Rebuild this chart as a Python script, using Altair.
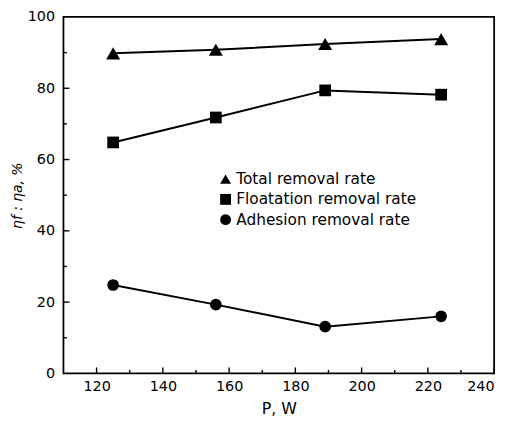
import altair as alt
import pandas as pd

power = [125, 156, 189, 224]
total = [89.8, 90.8, 92.4, 93.8]
floatation = [64.8, 71.8, 79.4, 78.2]
adhesion = [24.8, 19.3, 13.1, 16.0]
series_names = ["Total removal rate", "Floatation removal rate", "Adhesion removal rate"]
shapes = ["triangle-up", "square", "circle"]

x_major = [120, 140, 160, 180, 200, 220, 240]
x_minor = [130, 150, 170, 190, 210, 230]
y_major = [20, 40, 60, 80]
y_minor = [10, 30, 50, 70, 90]

rows = []
for name, vals in zip(series_names, [total, floatation, adhesion]):
    for p, v in zip(power, vals):
        rows.append({"P": p, "eta": v, "series": name})
df = pd.DataFrame(rows)

FONT = "DejaVu Sans"
W, H = 435, 360

xs = alt.Scale(domain=[110, 240], nice=False, zero=False)
ys = alt.Scale(domain=[0, 100], nice=False)

xaxis = alt.Axis(values=x_major, ticks=False, grid=False, labelFont=FONT, labelFontSize=14.5,
                 labelColor="black", labelPadding=6, domain=False,
                 title="P, W", titleFont=FONT, titleFontSize=16, titleFontWeight="normal",
                 titleColor="black", titlePadding=8)
yaxis = alt.Axis(values=[0, 20, 40, 60, 80, 100], ticks=False, grid=False, labelFont=FONT,
                 labelFontSize=14.5, labelColor="black", labelPadding=9, domain=False,
                 title="ηf : ηa, %", titleFont=FONT, titleFontSize=14, titleFontWeight="normal",
                 titleFontStyle="italic", titleColor="black", titlePadding=3)

lines = alt.Chart(df).mark_line(color="black", strokeWidth=2).encode(
    x=alt.X("P:Q", scale=xs, axis=xaxis),
    y=alt.Y("eta:Q", scale=ys, axis=yaxis),
    detail="series:N",
)

points = alt.Chart(df).mark_point(filled=True, color="black", opacity=1, size=150).encode(
    x=alt.X("P:Q", scale=xs),
    y=alt.Y("eta:Q", scale=ys),
    shape=alt.Shape("series:N", scale=alt.Scale(domain=series_names, range=shapes),
                    legend=alt.Legend(title=None, orient="none", legendX=156, legendY=156,
                                      labelFont=FONT, labelFontSize=15.5, labelColor="black",
                                      symbolFillColor="black", symbolStrokeColor="black",
                                      symbolSize=120, symbolType="circle", labelOffset=3,
                                      rowPadding=2.5, padding=0, labelLimit=300)),
    size=alt.condition("datum.series == 'Total removal rate'", alt.value(200), alt.value(140)),
)

xmaj = alt.Chart(pd.DataFrame({"v": x_major})).mark_rule(color="black", strokeWidth=1.4).encode(
    x=alt.X("v:Q", scale=xs), y=alt.value(H), y2=alt.value(H - 6))
xmin = alt.Chart(pd.DataFrame({"v": x_minor})).mark_rule(color="black", strokeWidth=1.4).encode(
    x=alt.X("v:Q", scale=xs), y=alt.value(H), y2=alt.value(H - 3.5))
ymaj = alt.Chart(pd.DataFrame({"v": y_major})).mark_rule(color="black", strokeWidth=1.4).encode(
    y=alt.Y("v:Q", scale=ys), x=alt.value(0), x2=alt.value(6))
ymin = alt.Chart(pd.DataFrame({"v": y_minor})).mark_rule(color="black", strokeWidth=1.4).encode(
    y=alt.Y("v:Q", scale=ys), x=alt.value(0), x2=alt.value(3.5))

chart = alt.layer(xmaj, xmin, ymaj, ymin, lines, points).properties(
    width=W, height=H,
    autosize=alt.AutoSizeParams(type="none"),
    padding={"left": 56, "top": 7, "right": 14, "bottom": 44},
).configure(background="white").configure_view(stroke="black", strokeWidth=1.8)

chart.save("out.html", embed_options={"renderer": "svg", "actions": False})
